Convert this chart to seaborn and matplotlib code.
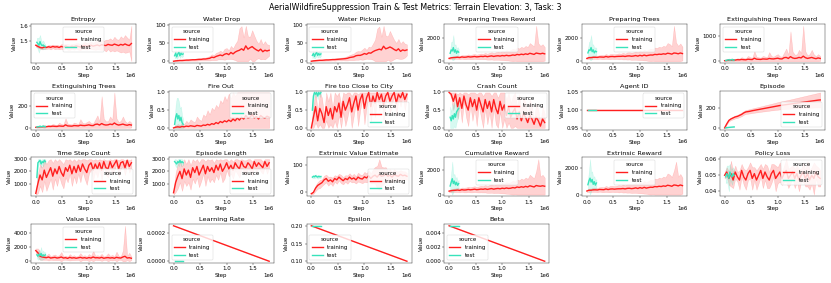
import matplotlib
matplotlib.use("Agg")
import matplotlib.pyplot as plt
import pandas as pd
import seaborn as sns

# ---------------- data ----------------
TRAIN_STEPS = list(range(0, 1_800_001, 40_000))      # 46 logged steps
TEST_STEPS = list(range(20_000, 180_001, 20_000))     # 9 logged steps
SCHEDULE_STEPS = [0, 1_800_000]

ENTROPY_TRAIN = [1.470, 1.462, 1.455, 1.452, 1.458, 1.455, 1.460, 1.456, 1.462, 1.458,
                 1.460, 1.455, 1.462, 1.458, 1.465, 1.460, 1.457, 1.463, 1.460, 1.466,
                 1.462, 1.458, 1.465, 1.468, 1.463, 1.466, 1.470, 1.464, 1.468, 1.472,
                 1.466, 1.474, 1.470, 1.468, 1.476, 1.472, 1.470, 1.478, 1.473, 1.468,
                 1.476, 1.471, 1.479, 1.472, 1.468, 1.482]
ENTROPY_TRAIN_BAND = [0.010, 0.008, 0.008, 0.010, 0.012, 0.010, 0.012, 0.014, 0.012, 0.015,
                      0.014, 0.012, 0.016, 0.018, 0.015, 0.020, 0.018, 0.016, 0.020, 0.018,
                      0.022, 0.020, 0.018, 0.025, 0.022, 0.020, 0.025, 0.022, 0.028, 0.030,
                      0.025, 0.035, 0.030, 0.040, 0.032, 0.045, 0.035, 0.050, 0.038, 0.040,
                      0.055, 0.045, 0.060, 0.050, 0.040, 0.120]
ENTROPY_TEST = [1.490, 1.480, 1.470, 1.495, 1.475, 1.468, 1.472, 1.465, 1.460]
ENTROPY_TEST_BAND = [0.030, 0.040, 0.050, 0.045, 0.030, 0.025, 0.030, 0.020, 0.015]

WATER_DROP_TRAIN = [0, 1, 1.5, 2, 2, 2.5, 3, 3, 3.5, 4,
                    4, 4.5, 5, 5, 6, 6, 7, 8, 11, 10,
                    13, 15, 17, 15, 19, 21, 18, 24, 20, 25,
                    28, 30, 34, 30, 42, 33, 37, 40, 35, 31,
                    28, 33, 26, 30, 28, 30]
WATER_DROP_TRAIN_BAND = [0.5, 1, 1, 1, 1.5, 1.5, 2, 2, 2, 2.5,
                         2.5, 3, 3, 3, 4, 4, 5, 6, 8, 7,
                         10, 10, 12, 10, 15, 15, 12, 18, 15, 22,
                         28, 60, 62, 35, 55, 35, 30, 45, 35, 25,
                         20, 28, 20, 25, 18, 15]
WATER_DROP_TEST = [15, 22, 12, 20, 25, 15, 22, 18, 20]
WATER_DROP_TEST_BAND = [8, 10, 6, 10, 8, 6, 8, 7, 6]

WATER_PICKUP_TRAIN = [0, 1, 1.5, 2, 2.5, 2.5, 3, 3.5, 3.5, 4,
                      4.5, 4.5, 5, 5.5, 6, 6.5, 7, 8, 10, 11,
                      12, 15, 16, 16, 18, 21, 19, 23, 22, 26,
                      29, 31, 33, 31, 41, 34, 36, 39, 36, 32,
                      29, 34, 27, 31, 29, 31]
WATER_PICKUP_TRAIN_BAND = [0.5, 1, 1, 1, 1.5, 1.5, 2, 2, 2, 2.5,
                           2.5, 3, 3, 3, 4, 4, 5, 6, 7, 8,
                           9, 11, 12, 11, 14, 16, 12, 17, 16, 22,
                           30, 58, 62, 36, 56, 36, 32, 44, 34, 26,
                           21, 27, 21, 24, 19, 15]
WATER_PICKUP_TEST = [16, 21, 13, 20, 24, 16, 21, 17, 20]
WATER_PICKUP_TEST_BAND = [8, 9, 6, 10, 8, 6, 8, 7, 6]

PREP_REWARD_TRAIN = [250, 300, 320, 330, 350, 320, 380, 350, 360, 400,
                     370, 390, 420, 380, 400, 430, 410, 450, 400, 440,
                     470, 420, 460, 480, 450, 500, 470, 520, 480, 500,
                     550, 520, 600, 560, 620, 580, 650, 600, 700, 650,
                     600, 720, 680, 650, 700, 650]
PREP_REWARD_TRAIN_BAND = [80, 100, 120, 130, 150, 140, 160, 170, 180, 200,
                          190, 210, 220, 200, 230, 250, 240, 280, 260, 300,
                          320, 300, 330, 350, 340, 400, 380, 450, 420, 480,
                          550, 500, 600, 560, 650, 600, 700, 650, 900, 800,
                          700, 2400, 900, 700, 800, 600]
PREP_REWARD_TEST = [700, 1000, 900, 1200, 800, 1000, 700, 900, 800]
PREP_REWARD_TEST_BAND = [300, 700, 800, 1100, 600, 500, 400, 350, 300]

PREP_TREES_TRAIN = [240, 310, 310, 340, 340, 330, 370, 360, 350, 410,
                    360, 400, 410, 390, 410, 420, 420, 440, 410, 450,
                    460, 430, 450, 490, 440, 510, 460, 530, 470, 510,
                    540, 530, 590, 570, 610, 590, 640, 610, 690, 660,
                    610, 710, 690, 640, 710, 660]
PREP_TREES_TRAIN_BAND = [80, 110, 110, 140, 140, 150, 150, 180, 170, 210,
                         180, 220, 210, 210, 220, 260, 230, 290, 250, 310,
                         310, 310, 320, 360, 330, 410, 370, 460, 410, 490,
                         540, 510, 590, 570, 640, 610, 690, 660, 880, 820,
                         690, 2350, 920, 690, 820, 590]
PREP_TREES_TEST = [720, 980, 920, 1180, 820, 980, 720, 880, 820]
PREP_TREES_TEST_BAND = [300, 680, 820, 1080, 620, 480, 420, 330, 310]

EXT_REWARD_TRAIN = [20, 30, 40, 40, 50, 45, 60, 55, 70, 60,
                    55, 80, 70, 65, 120, 80, 75, 70, 90, 85,
                    80, 110, 95, 90, 105, 120, 95, 90, 140, 150,
                    110, 180, 130, 110, 120, 150, 130, 200, 140, 110,
                    130, 150, 120, 100, 130, 110]
EXT_REWARD_TRAIN_BAND = [15, 25, 30, 30, 50, 40, 60, 50, 90, 70,
                         60, 130, 90, 70, 280, 100, 80, 70, 120, 100,
                         80, 250, 110, 90, 130, 160, 100, 90, 200, 350,
                         150, 1000, 250, 150, 150, 300, 200, 1200, 250, 120,
                         150, 300, 150, 100, 150, 100]
EXT_REWARD_TEST = [30, 40, 50, 60, 40, 55, 70, 40, 50]
EXT_REWARD_TEST_BAND = [20, 30, 40, 55, 30, 40, 60, 30, 30]

EXT_TREES_TRAIN = [5, 8, 10, 10, 12, 11, 14, 13, 16, 14,
                   13, 18, 16, 15, 28, 18, 17, 16, 21, 20,
                   18, 25, 22, 21, 24, 28, 22, 21, 32, 35,
                   26, 40, 30, 26, 28, 35, 30, 45, 32, 26,
                   30, 35, 28, 24, 30, 26]
EXT_TREES_TRAIN_BAND = [4, 6, 7, 7, 12, 9, 14, 12, 20, 16,
                        14, 30, 20, 16, 60, 22, 18, 16, 28, 22,
                        18, 55, 25, 20, 30, 36, 22, 20, 45, 80,
                        34, 250, 55, 34, 34, 70, 45, 280, 55, 28,
                        34, 70, 34, 22, 34, 22]
EXT_TREES_TEST = [7, 10, 12, 15, 10, 13, 17, 10, 12]
EXT_TREES_TEST_BAND = [5, 8, 10, 14, 8, 10, 15, 8, 8]

FIRE_OUT_TRAIN = [0.00, 0.02, 0.03, 0.02, 0.04, 0.03, 0.05, 0.04, 0.06, 0.05,
                  0.04, 0.07, 0.06, 0.05, 0.08, 0.07, 0.10, 0.08, 0.12, 0.10,
                  0.15, 0.12, 0.18, 0.15, 0.20, 0.17, 0.22, 0.18, 0.25, 0.20,
                  0.28, 0.22, 0.30, 0.25, 0.35, 0.28, 0.30, 0.38, 0.28, 0.32,
                  0.25, 0.35, 0.30, 0.28, 0.33, 0.30]
FIRE_OUT_TRAIN_BAND = [0.02, 0.05, 0.08, 0.06, 0.10, 0.08, 0.15, 0.10, 0.18, 0.14,
                       0.12, 0.25, 0.18, 0.15, 0.30, 0.25, 0.40, 0.30, 0.45, 0.40,
                       0.50, 0.45, 0.60, 0.55, 0.70, 0.60, 0.75, 0.65, 0.80, 0.70,
                       0.75, 0.80, 0.70, 0.75, 0.70, 0.75, 0.72, 0.65, 0.75, 0.70,
                       0.75, 0.68, 0.72, 0.75, 0.70, 0.72]
FIRE_OUT_TEST = [0.10, 0.30, 0.40, 0.25, 0.35, 0.20, 0.30, 0.15, 0.10]
FIRE_OUT_TEST_BAND = [0.15, 0.35, 0.45, 0.60, 0.40, 0.35, 0.30, 0.20, 0.15]

FIRE_CITY_TRAIN = [0.00, 0.30, 0.60, 0.20, 0.55, 0.40, 0.15, 0.60, 0.35, 0.55,
                   0.25, 0.60, 0.45, 0.70, 0.30, 0.75, 0.50, 0.65, 0.85, 0.45,
                   0.70, 0.90, 0.50, 0.80, 0.95, 0.55, 0.85, 1.00, 0.60, 0.90,
                   0.70, 1.00, 0.80, 0.95, 0.65, 0.90, 1.00, 0.75, 0.90, 1.00,
                   0.70, 0.95, 0.85, 1.00, 0.80, 0.95]
FIRE_CITY_TRAIN_BAND = [0.05, 0.35, 0.45, 0.25, 0.45, 0.45, 0.20, 0.40, 0.40, 0.45,
                        0.30, 0.40, 0.45, 0.35, 0.35, 0.30, 0.45, 0.35, 0.25, 0.45,
                        0.35, 0.20, 0.45, 0.30, 0.15, 0.45, 0.25, 0.10, 0.45, 0.20,
                        0.40, 0.10, 0.30, 0.10, 0.45, 0.20, 0.10, 0.35, 0.20, 0.10,
                        0.40, 0.10, 0.25, 0.10, 0.30, 0.10]
FIRE_CITY_TEST = [0.50, 0.90, 1.00, 0.95, 1.00, 0.90, 1.00, 0.95, 1.00]
FIRE_CITY_TEST_BAND = [0.30, 0.15, 0.05, 0.10, 0.05, 0.10, 0.05, 0.08, 0.05]

CRASH_TRAIN = [1.00, 0.95, 0.75, 0.95, 0.60, 0.85, 0.55, 0.90, 0.65, 0.50,
               0.85, 0.60, 0.80, 0.50, 0.85, 0.65, 0.45, 0.80, 0.55, 0.75,
               0.45, 0.80, 0.55, 0.40, 0.75, 0.50, 0.65, 0.35, 0.60, 0.30,
               0.45, 0.55, 0.25, 0.45, 0.20, 0.40, 0.30, 0.15, 0.35, 0.25,
               0.10, 0.30, 0.20, 0.05, 0.25, 0.15]
CRASH_TRAIN_BAND = [0.02, 0.10, 0.25, 0.10, 0.35, 0.20, 0.40, 0.15, 0.35, 0.45,
                    0.20, 0.40, 0.25, 0.45, 0.20, 0.35, 0.45, 0.25, 0.45, 0.30,
                    0.45, 0.25, 0.45, 0.45, 0.30, 0.50, 0.40, 0.45, 0.45, 0.40,
                    0.45, 0.50, 0.35, 0.50, 0.30, 0.45, 0.40, 0.25, 0.45, 0.35,
                    0.15, 0.40, 0.30, 0.10, 0.35, 0.25]
CRASH_TEST = [0.30, 0.20, 0.35, 0.25, 0.40, 0.30, 0.45, 0.50, 0.55]
CRASH_TEST_BAND = [0.30, 0.25, 0.35, 0.30, 0.35, 0.30, 0.30, 0.25, 0.20]

AGENT_ID_TRAIN = [1.0, 1.0]
AGENT_ID_TRAIN_BAND = [0.0, 0.0]
AGENT_ID_TEST = [1.0, 1.0, 1.0, 1.0, 1.0, 1.0, 1.0, 1.0, 1.0]
AGENT_ID_TEST_BAND = [0, 0, 0, 0, 0, 0, 0, 0, 0]

EPISODE_TRAIN = [0, 40, 75, 90, 100, 110, 115, 125, 135, 150,
                 160, 163, 167, 172, 176, 180, 184, 188, 192, 196,
                 200, 204, 208, 212, 216, 220, 224, 227, 230, 233,
                 236, 239, 242, 245, 248, 251, 254, 257, 260, 263,
                 266, 269, 272, 275, 278, 280]
EPISODE_TRAIN_BAND = [0, 5, 10, 12, 14, 15, 16, 17, 18, 19,
                      20, 21, 22, 23, 24, 25, 26, 27, 28, 30,
                      31, 32, 33, 35, 36, 38, 39, 40, 42, 43,
                      45, 46, 48, 50, 52, 54, 56, 58, 60, 62,
                      64, 66, 68, 70, 72, 75]
EPISODE_TEST = [0, 2, 4, 5, 6, 7, 8, 9, 10]
EPISODE_TEST_BAND = [0, 1, 1, 2, 2, 2, 2, 2, 2]

TIMESTEP_TRAIN = [200, 1000, 1700, 1300, 2100, 1500, 1900, 2300, 1600, 2200,
                  1800, 2400, 1900, 1600, 2300, 2000, 2500, 1800, 2400, 1900,
                  2500, 2000, 2600, 2200, 1900, 2500, 2700, 2100, 2600, 2200,
                  2700, 2100, 2800, 2300, 2200, 2800, 2300, 2600, 2900, 2200,
                  2700, 2800, 2300, 2900, 2400, 2700]
TIMESTEP_TRAIN_BAND = [100, 800, 900, 1000, 900, 1100, 1000, 900, 1100, 800,
                       1000, 800, 900, 1000, 800, 900, 700, 1000, 800, 900,
                       700, 900, 600, 800, 1000, 700, 500, 800, 600, 700,
                       500, 800, 400, 600, 700, 400, 600, 500, 300, 700,
                       500, 400, 600, 300, 500, 400]
TIMESTEP_TEST = [1500, 2700, 2800, 2900, 2600, 2800, 2700, 2900, 2800]
TIMESTEP_TEST_BAND = [300, 300, 200, 100, 300, 200, 300, 100, 200]

EP_LENGTH_TRAIN = [250, 1100, 1600, 2000, 1400, 2200, 1700, 2100, 1500, 2300,
                   1900, 2400, 1700, 2100, 2500, 1800, 2400, 2000, 2300, 1900,
                   2500, 2100, 2600, 2000, 2300, 2700, 2200, 2500, 2100, 2700,
                   2400, 2200, 2800, 2400, 2300, 2700, 2500, 2200, 2800, 2400,
                   2700, 2500, 2300, 2800, 2400, 2700]
EP_LENGTH_TRAIN_BAND = [150, 800, 1000, 900, 1000, 1000, 900, 1000, 1000, 900,
                        900, 900, 1000, 900, 700, 1000, 800, 900, 900, 800,
                        800, 800, 700, 900, 900, 600, 600, 700, 700, 600,
                        600, 700, 500, 500, 600, 500, 500, 600, 400, 600,
                        400, 500, 500, 400, 600, 400]
EP_LENGTH_TEST = [2800, 2700, 2600, 2800, 2700, 2900, 2700, 2800, 2700]
EP_LENGTH_TEST_BAND = [200, 300, 300, 200, 300, 100, 300, 200, 200]

VALUE_EST_TRAIN = [-5, 0, 15, 25, 30, 35, 45, 50, 40, 45,
                   38, 50, 45, 55, 48, 42, 50, 46, 55, 48,
                   52, 45, 55, 50, 48, 56, 52, 60, 50, 58,
                   62, 55, 65, 58, 60, 66, 58, 62, 55, 64,
                   60, 58, 65, 60, 62, 58]
VALUE_EST_TRAIN_BAND = [3, 5, 10, 12, 15, 12, 15, 14, 16, 12,
                        15, 12, 14, 12, 15, 13, 12, 15, 14, 12,
                        15, 13, 16, 14, 15, 18, 16, 20, 18, 25,
                        30, 40, 55, 35, 30, 25, 20, 22, 18, 20,
                        16, 18, 15, 16, 14, 12]
VALUE_EST_TEST = [55, 58, 56, 60, 57, 55, 58, 56, 57]
VALUE_EST_TEST_BAND = [5, 5, 6, 5, 5, 6, 5, 5, 4]

CUM_REWARD_TRAIN = [280, 320, 340, 350, 370, 340, 400, 370, 380, 420,
                    390, 410, 440, 400, 420, 450, 430, 470, 420, 460,
                    490, 440, 480, 500, 470, 520, 490, 540, 500, 520,
                    570, 540, 620, 580, 640, 600, 670, 620, 720, 670,
                    620, 740, 700, 680, 720, 680]
CUM_REWARD_TRAIN_BAND = [100, 120, 140, 150, 170, 160, 180, 190, 200, 220,
                         210, 230, 240, 220, 250, 270, 260, 300, 280, 320,
                         340, 320, 350, 370, 360, 420, 400, 470, 440, 500,
                         570, 520, 620, 580, 670, 620, 720, 670, 900, 800,
                         700, 1200, 2200, 800, 900, 700]
CUM_REWARD_TEST = [700, 1000, 1300, 900, 1100, 800, 1000, 750, 900]
CUM_REWARD_TEST_BAND = [300, 800, 1400, 700, 600, 500, 450, 350, 300]

EXTRINSIC_TRAIN = [270, 330, 330, 360, 360, 350, 390, 380, 370, 430,
                   380, 420, 430, 410, 430, 440, 440, 460, 430, 470,
                   480, 450, 470, 510, 460, 530, 480, 550, 490, 530,
                   560, 550, 610, 590, 630, 610, 660, 630, 710, 680,
                   630, 730, 710, 660, 730, 680]
EXTRINSIC_TRAIN_BAND = [90, 130, 130, 160, 160, 170, 170, 200, 190, 230,
                        200, 240, 230, 230, 240, 280, 250, 310, 270, 330,
                        330, 330, 340, 380, 350, 430, 390, 480, 430, 510,
                        560, 530, 610, 590, 660, 630, 710, 680, 900, 840,
                        710, 1100, 1800, 710, 840, 610]
EXTRINSIC_TEST = [750, 1050, 1250, 950, 1150, 780, 980, 720, 880]
EXTRINSIC_TEST_BAND = [320, 780, 1450, 720, 620, 480, 430, 330, 310]

POLICY_LOSS_TRAIN = [0.050, 0.052, 0.048, 0.051, 0.047, 0.052, 0.049, 0.047, 0.053, 0.049,
                     0.047, 0.051, 0.053, 0.048, 0.051, 0.047, 0.050, 0.053, 0.048, 0.052,
                     0.049, 0.047, 0.051, 0.053, 0.048, 0.050, 0.052, 0.048, 0.051, 0.053,
                     0.048, 0.050, 0.052, 0.048, 0.051, 0.047, 0.050, 0.052, 0.048, 0.051,
                     0.047, 0.050, 0.048, 0.052, 0.049, 0.048]
POLICY_LOSS_TRAIN_BAND = [0.002, 0.003, 0.004, 0.008, 0.005, 0.004, 0.003, 0.006, 0.004, 0.005,
                          0.006, 0.004, 0.005, 0.007, 0.004, 0.006, 0.005, 0.004, 0.006, 0.005,
                          0.007, 0.005, 0.006, 0.004, 0.008, 0.005, 0.006, 0.004, 0.005, 0.007,
                          0.006, 0.005, 0.004, 0.006, 0.005, 0.007, 0.004, 0.006, 0.005, 0.008,
                          0.006, 0.005, 0.010, 0.004, 0.006, 0.005]
POLICY_LOSS_TEST = [0.049, 0.051, 0.050, 0.048, 0.052, 0.050, 0.049, 0.051, 0.050]
POLICY_LOSS_TEST_BAND = [0.004, 0.005, 0.006, 0.008, 0.005, 0.004, 0.005, 0.004, 0.003]

VALUE_LOSS_TRAIN = [1500, 1200, 700, 600, 550, 500, 600, 450, 500, 550,
                    450, 500, 600, 450, 500, 400, 550, 450, 500, 420,
                    480, 550, 450, 500, 420, 520, 450, 600, 480, 500,
                    450, 550, 420, 480, 520, 450, 500, 420, 550, 480,
                    450, 600, 700, 450, 500, 420]
VALUE_LOSS_TRAIN_BAND = [300, 600, 500, 400, 350, 300, 500, 250, 350, 400,
                         300, 350, 700, 250, 300, 250, 450, 300, 350, 250,
                         300, 600, 300, 350, 250, 500, 300, 900, 300, 350,
                         300, 500, 250, 300, 600, 300, 400, 250, 800, 300,
                         250, 900, 4300, 300, 700, 250]
VALUE_LOSS_TEST = [900, 700, 1000, 800, 1100, 700, 900, 800, 900]
VALUE_LOSS_TEST_BAND = [400, 500, 700, 600, 900, 500, 600, 400, 400]

LR_TRAIN = [0.00025, 0.0]
LR_TRAIN_BAND = [0.0, 0.0]
LR_TEST = [0, 0, 0, 0, 0, 0, 0, 0, 0]
LR_TEST_BAND = [0, 0, 0, 0, 0, 0, 0, 0, 0]

EPSILON_TRAIN = [0.20, 0.10]
EPSILON_TRAIN_BAND = [0.0, 0.0]
EPSILON_TEST = [0.2, 0.2, 0.2, 0.2, 0.2, 0.2, 0.2, 0.2, 0.2]
EPSILON_TEST_BAND = [0, 0, 0, 0, 0, 0, 0, 0, 0]

BETA_TRAIN = [0.005, 0.0]
BETA_TRAIN_BAND = [0.0, 0.0]
BETA_TEST = [0.005, 0.005, 0.005, 0.005, 0.005, 0.005, 0.005, 0.005, 0.005]
BETA_TEST_BAND = [0, 0, 0, 0, 0, 0, 0, 0, 0]

SOURCES = ["training", "test"]
TITLE = "AerialWildfireSuppression Train & Test Metrics: Terrain Elevation: 3, Task: 3"

# (title, train steps, train, train band, test, test band, floor, ceiling, yticks, legend loc)
METRICS = [
    ("Entropy", TRAIN_STEPS, ENTROPY_TRAIN, ENTROPY_TRAIN_BAND, ENTROPY_TEST, ENTROPY_TEST_BAND, None, None, [1.5, 1.6], "upper center"),
    ("Water Drop", TRAIN_STEPS, WATER_DROP_TRAIN, WATER_DROP_TRAIN_BAND, WATER_DROP_TEST, WATER_DROP_TEST_BAND, 0, None, [0, 50, 100], "upper left"),
    ("Water Pickup", TRAIN_STEPS, WATER_PICKUP_TRAIN, WATER_PICKUP_TRAIN_BAND, WATER_PICKUP_TEST, WATER_PICKUP_TEST_BAND, 0, None, [0, 50, 100], "upper left"),
    ("Preparing Trees Reward", TRAIN_STEPS, PREP_REWARD_TRAIN, PREP_REWARD_TRAIN_BAND, PREP_REWARD_TEST, PREP_REWARD_TEST_BAND, 0, None, [0, 2000], "upper center"),
    ("Preparing Trees", TRAIN_STEPS, PREP_TREES_TRAIN, PREP_TREES_TRAIN_BAND, PREP_TREES_TEST, PREP_TREES_TEST_BAND, 0, None, [0, 2000], "upper center"),
    ("Extinguishing Trees Reward", TRAIN_STEPS, EXT_REWARD_TRAIN, EXT_REWARD_TRAIN_BAND, EXT_REWARD_TEST, EXT_REWARD_TEST_BAND, 0, None, [0, 1000], "upper left"),
    ("Extinguishing Trees", TRAIN_STEPS, EXT_TREES_TRAIN, EXT_TREES_TRAIN_BAND, EXT_TREES_TEST, EXT_TREES_TEST_BAND, 0, None, [0, 200], "upper left"),
    ("Fire Out", TRAIN_STEPS, FIRE_OUT_TRAIN, FIRE_OUT_TRAIN_BAND, FIRE_OUT_TEST, FIRE_OUT_TEST_BAND, 0, 1, [0.0, 0.5, 1.0], "upper right"),
    ("Fire too Close to City", TRAIN_STEPS, FIRE_CITY_TRAIN, FIRE_CITY_TRAIN_BAND, FIRE_CITY_TEST, FIRE_CITY_TEST_BAND, 0, 1, [0.0, 0.5, 1.0], "lower right"),
    ("Crash Count", TRAIN_STEPS, CRASH_TRAIN, CRASH_TRAIN_BAND, CRASH_TEST, CRASH_TEST_BAND, 0, 1, [0.0, 0.5, 1.0], "upper right"),
    ("Agent ID", SCHEDULE_STEPS, AGENT_ID_TRAIN, AGENT_ID_TRAIN_BAND, AGENT_ID_TEST, AGENT_ID_TEST_BAND, None, None, [0.95, 1.00, 1.05], "upper right"),
    ("Episode", TRAIN_STEPS, EPISODE_TRAIN, EPISODE_TRAIN_BAND, EPISODE_TEST, EPISODE_TEST_BAND, 0, None, [0, 200], "lower right"),
    ("Time Step Count", TRAIN_STEPS, TIMESTEP_TRAIN, TIMESTEP_TRAIN_BAND, TIMESTEP_TEST, TIMESTEP_TEST_BAND, 0, 3000, [1000, 2000, 3000], "lower right"),
    ("Episode Length", TRAIN_STEPS, EP_LENGTH_TRAIN, EP_LENGTH_TRAIN_BAND, EP_LENGTH_TEST, EP_LENGTH_TEST_BAND, 0, 3000, [1000, 2000, 3000], "lower right"),
    ("Extrinsic Value Estimate", TRAIN_STEPS, VALUE_EST_TRAIN, VALUE_EST_TRAIN_BAND, VALUE_EST_TEST, VALUE_EST_TEST_BAND, None, None, [0, 100], "lower right"),
    ("Cumulative Reward", TRAIN_STEPS, CUM_REWARD_TRAIN, CUM_REWARD_TRAIN_BAND, CUM_REWARD_TEST, CUM_REWARD_TEST_BAND, 0, None, [0, 2000], "upper center"),
    ("Extrinsic Reward", TRAIN_STEPS, EXTRINSIC_TRAIN, EXTRINSIC_TRAIN_BAND, EXTRINSIC_TEST, EXTRINSIC_TEST_BAND, 0, None, [0, 2000], "upper center"),
    ("Policy Loss", TRAIN_STEPS, POLICY_LOSS_TRAIN, POLICY_LOSS_TRAIN_BAND, POLICY_LOSS_TEST, POLICY_LOSS_TEST_BAND, None, None, [0.04, 0.05, 0.06], "upper right"),
    ("Value Loss", TRAIN_STEPS, VALUE_LOSS_TRAIN, VALUE_LOSS_TRAIN_BAND, VALUE_LOSS_TEST, VALUE_LOSS_TEST_BAND, 0, None, [0, 2000, 4000], "upper center"),
    ("Learning Rate", SCHEDULE_STEPS, LR_TRAIN, LR_TRAIN_BAND, LR_TEST, LR_TEST_BAND, None, None, [0.0, 0.0002], "lower left"),
    ("Epsilon", SCHEDULE_STEPS, EPSILON_TRAIN, EPSILON_TRAIN_BAND, EPSILON_TEST, EPSILON_TEST_BAND, None, None, [0.10, 0.15, 0.20], "lower left"),
    ("Beta", SCHEDULE_STEPS, BETA_TRAIN, BETA_TRAIN_BAND, BETA_TEST, BETA_TEST_BAND, None, None, [0.000, 0.002, 0.004], "lower left"),
]

# ---------------- styling ----------------
PALETTE = {"training": "#ff1f1f", "test": "#38e3bb"}
DPI = 100 / 3
W, H = 831, 283


def long_rows(steps, vals, band, lo_lim, hi_lim, source):
    rows = []
    for s, v, b in zip(steps, vals, band):
        lo, hi = v - b, v + b
        if lo_lim is not None:
            lo = max(lo, lo_lim)
        if hi_lim is not None:
            hi = min(hi, hi_lim)
        for y in (lo, v, hi):
            rows.append({"Step": s, "Value": y, "source": source})
    return rows


fig, axes = plt.subplots(4, 6, figsize=(W / DPI, H / DPI))
fig.subplots_adjust(left=31 / W, right=825 / W, top=1 - 24 / H, bottom=1 - 263 / H,
                    wspace=0.31, hspace=0.71)

for ax, spec in zip(axes.flat, METRICS):
    title, tsteps, tr, trb, te, teb, lo_lim, hi_lim, yticks, loc = spec
    rows = long_rows(tsteps, tr, trb, lo_lim, hi_lim, "training")
    rows += long_rows(TEST_STEPS, te, teb, lo_lim, hi_lim, "test")
    df = pd.DataFrame(rows)
    sns.lineplot(data=df, x="Step", y="Value", hue="source", hue_order=SOURCES,
                 palette=PALETTE, estimator="median", errorbar=("pi", 100),
                 linewidth=3, ax=ax)
    ax.set_title(title, fontsize=14)
    ax.set_yticks(yticks)
    ax.tick_params(labelsize=12)
    ax.xaxis.label.set_size(12)
    ax.yaxis.label.set_size(12)
    ax.xaxis.get_offset_text().set_size(12)
    sns.move_legend(ax, loc, title="source", fontsize=12, title_fontsize=12)

for ax in axes.flat[len(METRICS):]:
    ax.set_visible(False)

fig.suptitle(TITLE, fontsize=17, y=1 - 8 / H, va="center")
fig.savefig("out.png", dpi=DPI)
